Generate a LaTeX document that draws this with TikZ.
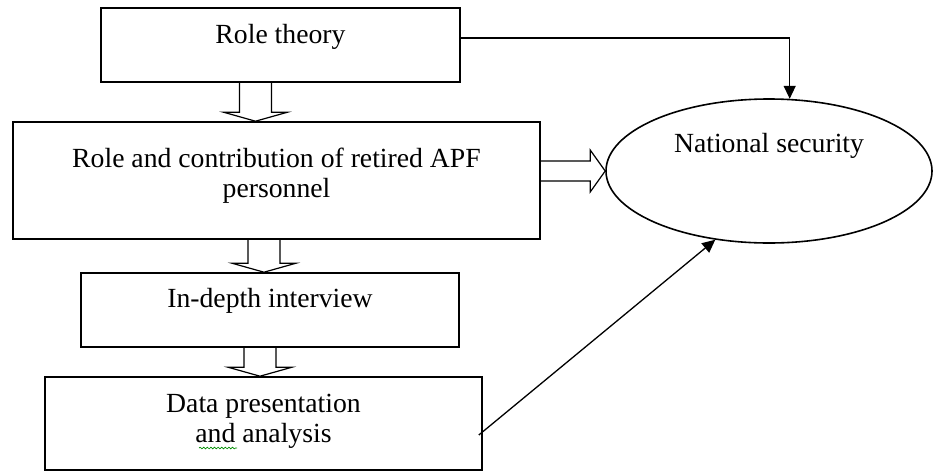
\documentclass[tikz,border=0pt]{standalone}
\usepackage{fontspec}
\setmainfont{Liberation Serif}
\usetikzlibrary{calc,arrows.meta,shapes.geometric,decorations.pathmorphing}

\tikzset{
  box/.style={draw,line width=0.8pt,inner xsep=0pt,inner ysep=0pt,align=center,
    font=\fontsize{13.85}{15}\selectfont},
  hollow/.style={line width=0.6pt},
  link/.style={line width=0.65pt,-{Triangle[length=6.5pt,width=6pt]}}
}

% open block arrow pointing down, x given, from one node to the next
\newcommand{\hollowdown}[3]{%
  \draw[hollow] let \p1=(#1,0 |- #2.south), \p2=(#1,0 |- #3.north) in
    (\x1-8pt,\y1) -- (\x1-8pt,\y2+4.5pt) -- (\x1-16pt,\y2+4.5pt) -- (\x1,\y2)
    -- (\x1+16pt,\y2+4.5pt) -- (\x1+8pt,\y2+4.5pt) -- (\x1+8pt,\y1);}
% open block arrow pointing right
\newcommand{\hollowright}[2]{%
  \draw[hollow] let \p1=(#1.east |- #2.west), \p2=(#2.west) in
    (\x1,\y1+5pt) -- (\x2-7.5pt,\y1+5pt) -- (\x2-7.5pt,\y1+10.5pt) -- (\x2,\y1)
    -- (\x2-7.5pt,\y1-10.5pt) -- (\x2-7.5pt,\y1-5pt) -- (\x1,\y1-5pt);}

\begin{document}
\begin{tikzpicture}[x=0.5pt,y=-0.5pt]
  \useasboundingbox (0,0) rectangle (933,472);
  % left column
  \node[box,minimum width=179.5pt,text height=17.5pt,text depth=19.5pt] (theory) at (280.5,45) {Role theory};
  \node[box,minimum width=263.5pt,text height=37.5pt,text depth=21pt] (contrib) at (276.5,180.5)
    {Role and contribution of retired APF\\ personnel};
  \node[box,minimum width=189pt,text height=17pt,text depth=20pt] (interview) at (270,310) {In-depth interview};
  \node[box,minimum width=218.5pt,text height=32.5pt,text depth=14pt] (analysis) at (263.5,423.5)
    {Data presentation\\ and analysis};
  % outcome
  \node[box,ellipse,minimum width=163pt,minimum height=72pt,text height=10pt,text depth=29pt] (security)
    at (769,171) {National security};

  % block arrows
  \hollowdown{255.5}{theory}{contrib}
  \hollowdown{264}{contrib}{interview}
  \hollowdown{260}{interview}{analysis}
  \hollowright{contrib}{security}

  % links to the ellipse
  \draw[link] ([yshift=3.5pt]theory.east) -| (security.74);
  \draw[link] ([xshift=-2pt,yshift=-5.75pt]analysis.east) -- (security.232);

  % spell check mark under "and"
  \draw[green!55!black,line width=0.35pt,decorate,decoration={snake,amplitude=0.4pt,segment length=1.8pt}]
    (199,448) -- (237,448);
\end{tikzpicture}
\end{document}
